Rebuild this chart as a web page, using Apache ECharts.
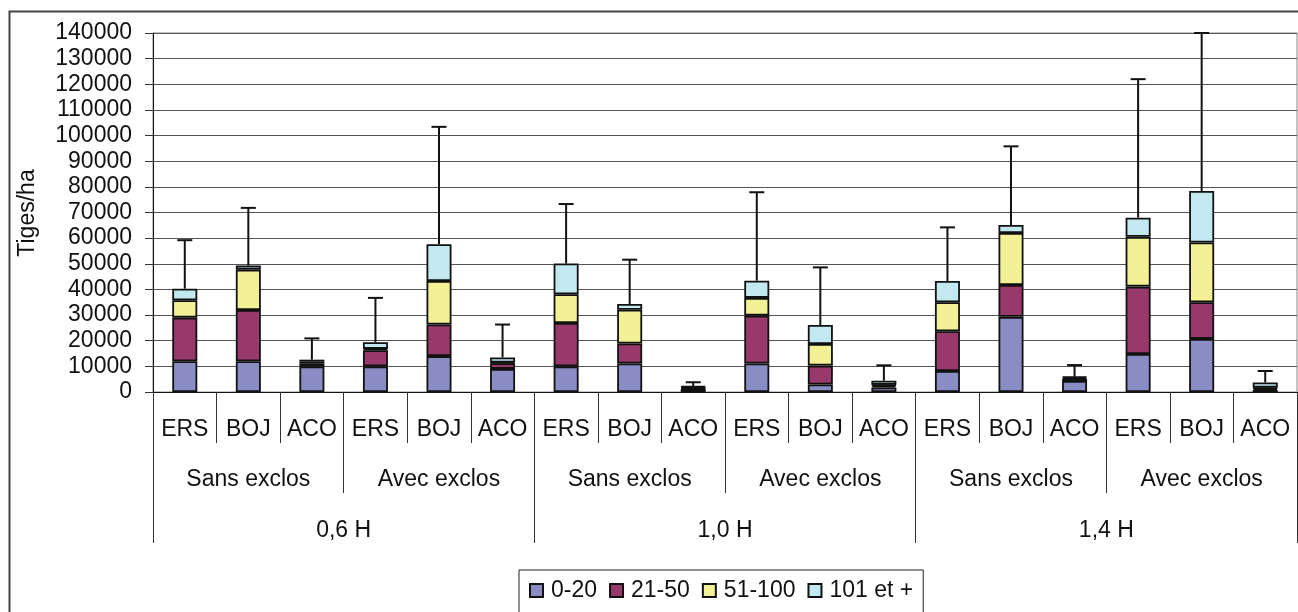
<!DOCTYPE html>
<html>
<head>
<meta charset="utf-8">
<script src="https://cdn.jsdelivr.net/npm/echarts@6/dist/echarts.min.js"></script>
<style>
html,body{margin:0;padding:0;background:#fff;}
#c{width:1298px;height:612px;}
</style>
</head>
<body>
<div id="c"></div>
<script>
// ---- data ----
var species = ['ERS','BOJ','ACO','ERS','BOJ','ACO','ERS','BOJ','ACO','ERS','BOJ','ACO','ERS','BOJ','ACO','ERS','BOJ','ACO'];
var treatments = ['Sans exclos','Avec exclos','Sans exclos','Avec exclos','Sans exclos','Avec exclos'];
var heights = ['0,6 H','1,0 H','1,4 H'];
var seriesNames = ['0-20','21-50','51-100','101 et +'];
var s0_20   = [12000, 12000, 10000, 10000, 14000, 9000, 10000, 11100, 1200, 11100, 2900, 1800, 8200, 29300, 4300, 14800, 20700, 800];
var s21_50  = [17000, 20000, 1000, 6300, 12300, 2200, 16900, 7800, 400, 18700, 7400, 700, 15500, 12400, 800, 26300, 14300, 600];
var s51_100 = [6800, 15700, 800, 500, 17000, 300, 11200, 13200, 300, 6900, 8400, 300, 11300, 20300, 500, 19400, 23300, 300];
var s101    = [4500, 1600, 800, 2600, 14300, 2000, 12000, 2200, 400, 6700, 7400, 1600, 8300, 3100, 400, 7500, 20100, 2000];
var errTop  = [59200, 71800, 20900, 36700, 103400, 26300, 73300, 51600, 3800, 77900, 48600, 10400, 64200, 95800, 10500, 122000, 140000, 8200];

var colors = ['#8a8cc4','#98396b','#f3f196','#c2e8f0'];
var FONT = "'Liberation Sans', Arial, sans-serif";
var FS = 23;

var allSeries = [s0_20, s21_50, s51_100, s101];
var totals = species.map(function(_, i){ return allSeries.reduce(function(a, s){ return a + s[i]; }, 0); });

var chart = echarts.init(document.getElementById('c'));
var barSeries = allSeries.map(function(arr, k){
  return {
    name: seriesNames[k], type: 'bar', stack: 'total', data: arr,
    barWidth: 25, xAxisIndex: 0,
    itemStyle: { color: colors[k], borderColor: '#111', borderWidth: 1.8 }
  };
});
barSeries.push({
  type: 'custom', xAxisIndex: 0, z: 3,
  data: errTop.map(function(v, i){ return [i, totals[i], v]; }),
  encode: { x: 0, y: [1, 2] },
  renderItem: function(params, api){
    var i = api.value(0);
    var b = api.coord([i, api.value(1)]);
    var t = api.coord([i, api.value(2)]);
    var st = { stroke: '#111', lineWidth: 2 };
    return { type: 'group', children: [
      { type: 'line', shape: { x1: b[0], y1: b[1], x2: t[0], y2: t[1] }, style: st },
      { type: 'line', shape: { x1: t[0]-7.5, y1: t[1], x2: t[0]+7.5, y2: t[1] }, style: st }
    ]};
  }
});

function catAxis(data, tickLen, margin, showLine){
  return {
    type: 'category', data: data, position: 'bottom', gridIndex: 0, offset: 0,
    axisLine: { show: showLine, lineStyle: { color: '#111', width: 1 } },
    axisTick: { show: true, interval: 0, length: tickLen, lineStyle: { color: '#333', width: 1 } },
    axisLabel: { interval: 0, margin: margin, color: '#111', fontSize: FS, fontFamily: FONT, lineHeight: FS },
    splitLine: { show: false }
  };
}

chart.setOption({
  animation: false,
  backgroundColor: '#fff',
  textStyle: { fontFamily: FONT },
  grid: { left: 153, right: 1, top: 33, bottom: 220, show: true, borderColor: '#888', borderWidth: 1 },
  legend: {
    data: seriesNames, top: 570, left: 519, icon: 'rect',
    padding: [9, 10, 40, 10], borderColor: '#222', borderWidth: 1,
    itemWidth: 13, itemHeight: 13, itemGap: 12,
    textStyle: { fontSize: FS, color: '#111', fontFamily: FONT, padding: [0, 0, 0, 3] }
  },
  xAxis: [
    catAxis(species, 51, 26, true),
    catAxis(treatments, 101, 76, false),
    catAxis(heights, 151, 127, false)
  ],
  yAxis: {
    type: 'value', min: 0, max: 140000, interval: 10000,
    axisLine: { show: true, lineStyle: { color: '#111', width: 1 } },
    axisTick: { show: true, length: 8, lineStyle: { color: '#333' } },
    axisLabel: { color: '#111', fontSize: FS, fontFamily: FONT, margin: 21, formatter: function(v){ return String(v); } },
    splitLine: { show: true, lineStyle: { color: '#555', width: 1 } }
  },
  graphic: [
    { type: 'rect', shape: { x: 9.5, y: 11.5, width: 1400, height: 700 }, style: { fill: 'none', stroke: '#444', lineWidth: 2 }, z: -1, silent: true },
    { type: 'text', x: 27.5, y: 213, rotation: Math.PI/2,
      style: { text: 'Tiges/ha', font: FS + "px " + FONT, fill: '#111', align: 'center', verticalAlign: 'middle' } }
  ],
  series: barSeries
});
</script>
</body>
</html>
